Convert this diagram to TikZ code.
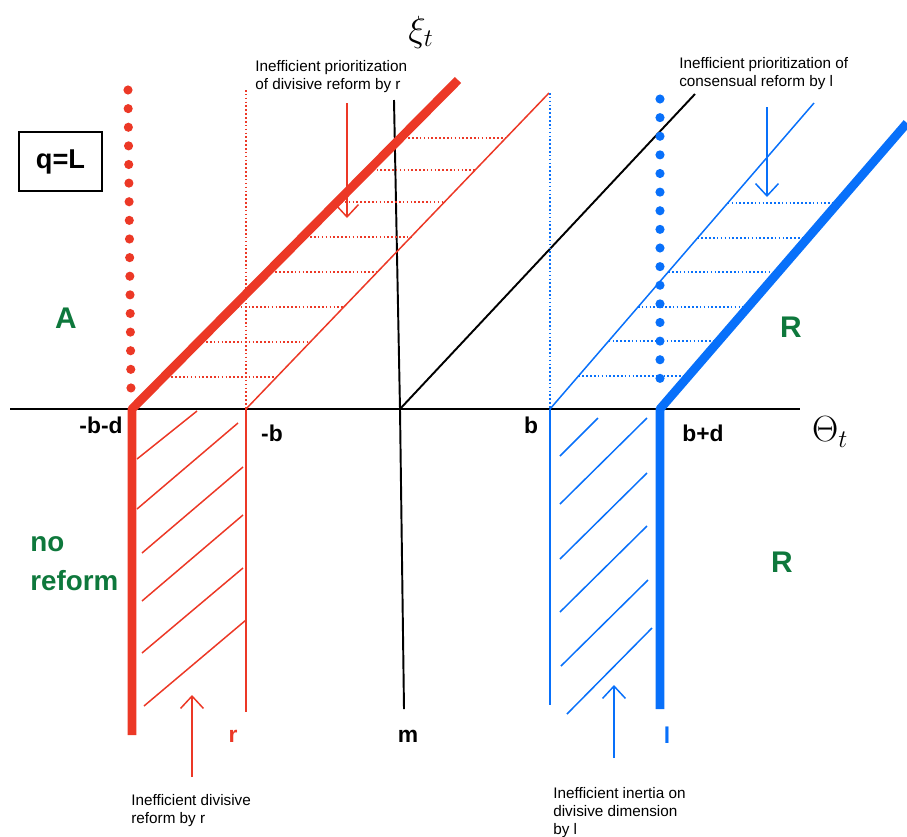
\documentclass[tikz,border=0pt]{standalone}
\usepackage{fontspec}
\setmainfont{Liberation Sans}
\usetikzlibrary{arrows.meta}

\definecolor{redline}{RGB}{236,56,38}
\definecolor{blueline}{RGB}{8,112,250}
\definecolor{regiongreen}{RGB}{14,120,60}

\tikzset{
  axisline/.style={line width=1.1pt},
  heavy/.style={line width=5pt},
  light/.style={line width=0.85pt},
  finedots/.style={line width=0.85pt,dash pattern=on 0.9pt off 1.3pt},
  bigdots/.style={line width=5.2pt,line cap=round,dash pattern=on 0pt off 10.6pt},
  note/.style={font=\fontsize{8.7}{10.2}\selectfont,align=left,anchor=north west,inner sep=0pt},
  ticklabel/.style={font=\fontsize{13}{15}\selectfont\bfseries,anchor=base,inner sep=0pt},
  region/.style={font=\fontsize{17}{21}\selectfont\bfseries,text=regiongreen,inner sep=0pt},
  pointer/.style={light,-{Straight Barb[length=7pt,width=13pt]}},
}

\begin{document}
\begin{tikzpicture}[x=0.02cm,y=-0.02cm]
\useasboundingbox (0,0) rectangle (907,836);
% points on the axis
\coordinate (axl) at (10,409);
\coordinate (axr) at (800,409);
\coordinate (O) at (400,409);
\coordinate (mbd) at (132,409);
\coordinate (mb) at (246,409);
\coordinate (pb) at (550,409);
\coordinate (pbd) at (660,409);
% ends of the lines
\coordinate (rtop) at (458,80);
\coordinate (rbot) at (132,735);
\coordinate (rthin) at (549,93);
\coordinate (rdot) at (246,90);
\coordinate (rend) at (246,712);
\coordinate (mtop) at (394,100);
\coordinate (mbot) at (404,709);
\coordinate (otop) at (695,94);
\coordinate (btop) at (907,123);
\coordinate (bbot) at (660,709);
\coordinate (bthin) at (814,103);
\coordinate (bdot) at (550,93);
\coordinate (bend) at (550,705);

\draw[axisline] (axl) -- (axr);
\draw[axisline] (mtop) -- (O) -- (mbot);
\draw[axisline] (O) -- (otop);

% left band
\draw[bigdots,redline] (128,90) -- (131,392);
\draw[finedots,redline] (rdot) -- (mb);
\draw[light,redline] (mb) -- (rend);
\draw[light,redline] (mb) -- (rthin);
\foreach \yy in {138,170,202,237,272,307,342,377}
  \draw[finedots,redline] ({132+(409-\yy)*0.991},\yy) -- ({246+(409-\yy)*0.959},\yy);
\foreach \xa/\ya/\xb/\yb in {137/459/197/411,137/509/238/423,142/553/243/467,142/601/243/515,142/653/243/568,144/706/246/620}
  \draw[light,redline] (\xa,\ya) -- (\xb,\yb);
\draw[heavy,redline,line join=round] (rbot) -- (mbd) -- (rtop);

% right band
\draw[bigdots,blueline] (660,99) -- (660,393);
\draw[finedots,blueline] (bdot) -- (pb);
\draw[light,blueline] (pb) -- (bend);
\draw[light,blueline] (pb) -- (bthin);
\foreach \yy in {203,238,272,307,341,376}
  \draw[finedots,blueline] ({550+(409-\yy)*0.863},\yy) -- ({660+(409-\yy)*0.864},\yy);
\foreach \xa/\ya/\xb/\yb in {560/456/598/418,560/504/647/418,560/559/647/473,560/612/647/526,561/666/648/580,567/714/652/628}
  \draw[light,blueline] (\xa,\ya) -- (\xb,\yb);
\draw[heavy,blueline,line join=round] (bbot) -- (pbd) -- (btop);

% axis names
\node[font=\fontsize{22}{26}\selectfont] (xilab) at (421,32) {$\xi_t$};
\node[font=\fontsize{20}{24}\selectfont,anchor=west] (thetalab) at (806,432) {$\Theta_t$};

\node[draw,line width=1.2pt,minimum width=47pt,minimum height=33.5pt,
  font=\fontsize{15.5}{18}\selectfont\bfseries] (qbox) at (60.5,161.5) {q=L};

% tick labels
\node[ticklabel] (lbd) at (101,433) {-b-d};
\node[ticklabel] (lb) at (272,441) {-b};
\node[ticklabel] (lpb) at (531,433) {b};
\node[ticklabel] (lpbd) at (703,441) {b+d};
\node[ticklabel,text=redline] (lr) at (233,742) {r};
\node[ticklabel] (lm) at (408,742) {m};
\node[ticklabel,text=blueline] (ll) at (667,743) {l};

% regions
\node[region,anchor=base] (regA) at (66,328) {A};
\node[region,anchor=base] (regR1) at (791,337) {R};
\node[region,anchor=base] (regR2) at (782,572) {R};
\node[region,font=\fontsize{15.8}{20}\selectfont\bfseries,align=left,anchor=base west] (regno) at (30,590) {no\\[2pt]reform};

% notes and pointers
\node[note] (noteTL) at (255,60) {Inefficient prioritization\\of divisive reform by r};
\node[note] (noteTR) at (679,57) {Inefficient prioritization of\\consensual reform by l};
\node[note] (noteBL) at (131,794) {Inefficient divisive\\reform by r};
\node[note] (noteBR) at (553,787) {Inefficient inertia on\\divisive dimension\\by l};

\coordinate (pa1) at (347,103);
\coordinate (pa2) at (347,218);
\coordinate (pb1) at (767,107);
\coordinate (pb2) at (767,197);
\coordinate (pc1) at (192,777);
\coordinate (pc2) at (192,695);
\coordinate (pd1) at (614,758);
\coordinate (pd2) at (614,685);
\draw[pointer,redline] (pa1) -- (pa2);
\draw[pointer,blueline] (pb1) -- (pb2);
\draw[pointer,redline] (pc1) -- (pc2);
\draw[pointer,blueline] (pd1) -- (pd2);
\end{tikzpicture}
\end{document}
